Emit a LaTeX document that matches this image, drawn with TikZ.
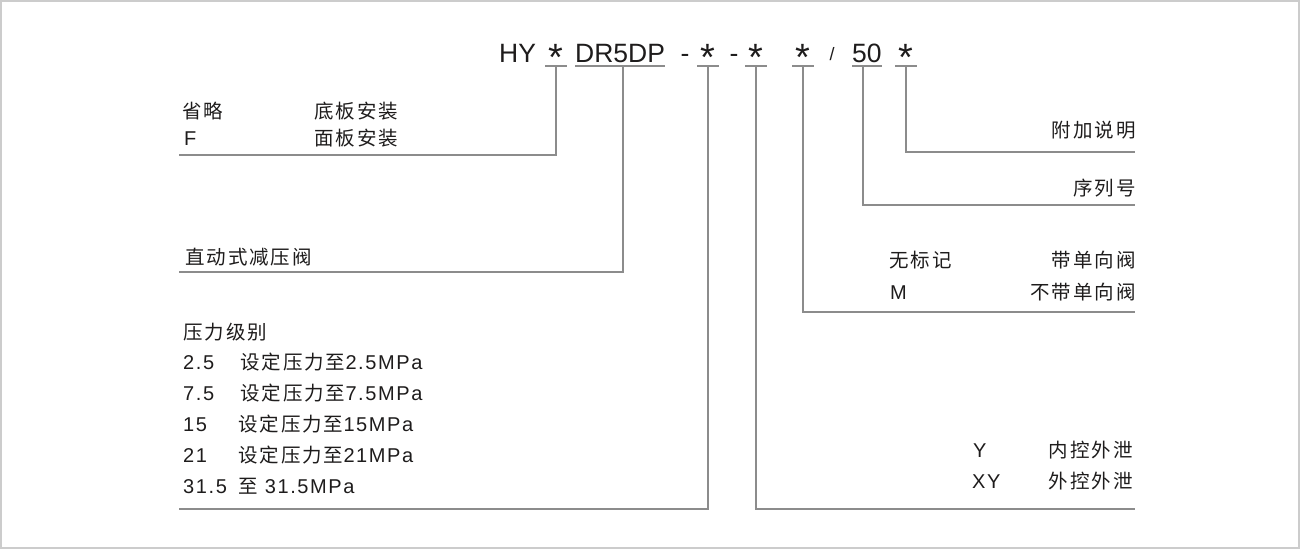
\documentclass[tikz,border=0pt]{standalone}
\usepackage{fontspec}
\setmainfont{Liberation Sans}
\newfontfamily\cjk{Noto Sans CJK SC}[LetterSpace=10]
\newfontfamily\latsp{Liberation Sans}[LetterSpace=8]
\definecolor{linegray}{RGB}{140,140,140}
\definecolor{framegray}{RGB}{204,204,204}
\definecolor{ink}{RGB}{30,28,28}
\newcommand{\codefont}{\fontsize{26.5}{30}\selectfont}
\newcommand{\astfont}{\fontsize{38}{40}\selectfont}
\newcommand{\slashfont}{\fontsize{18}{20}\selectfont}
\newcommand{\lblfont}{\fontsize{20}{22}\selectfont\latsp}
\newcommand{\zh}[1]{{\fontsize{19.5}{22}\selectfont\cjk #1}}
\begin{document}
\begin{tikzpicture}[x=1pt,y=-1pt,
  line/.style={draw=linegray,line width=1.3pt},
  code/.style={inner sep=0pt,anchor=base west,font=\codefont,text=ink},
  ast/.style={inner sep=0pt,anchor=base,font=\astfont,text=ink},
  lbl/.style={inner sep=0pt,anchor=base west,font=\lblfont,text=ink},
  rlbl/.style={lbl,anchor=base east}]
\useasboundingbox (0,0) rectangle (1300,549);
\draw[framegray,line width=2pt] (1,1) rectangle (1299,548);

\node[code] (hy) at (499,62) {HY};
\node[ast] (s1) at (556,70) {*};
\node[code] (dr) at (575,62) {DR5DP};
\node[code,anchor=base] (d1) at (685,62) {-};
\node[ast] (s2) at (708,70) {*};
\node[code,anchor=base] (d2) at (734,62) {-};
\node[ast] (s3) at (756,70) {*};
\node[ast] (s4) at (803,70) {*};
\node[code,anchor=base,font=\slashfont] (sl) at (832,60) {/};
\node[code] (n50) at (852,62) {50};
\node[ast] (s5) at (906,70) {*};

\coordinate (ul) at (0,66);
\foreach \s in {s1,s2,s3,s4,s5}
  \draw[line] (\s |- ul) ++(-11,0) -- ++(22,0);
\draw[line] (dr.base west |- ul) -- (dr.base east |- ul);
\draw[line] (n50.base west |- ul) -- (n50.base east |- ul);

\coordinate (e1) at (179,155);
\coordinate (e2) at (179,272);
\coordinate (e3) at (179,509);
\coordinate (e4) at (1135,509);
\coordinate (e5) at (1135,312);
\coordinate (e6) at (1135,205);
\coordinate (e7) at (1135,152);
\draw[line] (s1 |- ul) |- (e1);
\draw[line] (dr.base |- ul) ++(3,0) |- (e2);
\draw[line] (s2 |- ul) |- (e3);
\draw[line] (s3 |- ul) |- (e4);
\draw[line] (s4 |- ul) |- (e5);
\draw[line] (n50.base |- ul) ++(-4,0) |- (e6);
\draw[line] (s5 |- ul) |- (e7);

\node[lbl] (omit) at (182,118.5) {\zh{省略}};
\node[lbl] (bottom) at (314,118.5) {\zh{底板安装}};
\node[lbl] (F) at (184,145.5) {F};
\node[lbl] (face) at (314,145.5) {\zh{面板安装}};
\node[lbl] (direct) at (185,264) {\zh{直动式减压阀}};
\node[lbl] (plevel) at (183,339) {\zh{压力级别}};
\node[lbl] (p1) at (183,369) {2.5};
\node[lbl] (p1d) at (240,369) {\zh{设定压力至}2.5MPa};
\node[lbl] (p2) at (183,400) {7.5};
\node[lbl] (p2d) at (240,400) {\zh{设定压力至}7.5MPa};
\node[lbl] (p3) at (183,431) {15};
\node[lbl] (p3d) at (238,431) {\zh{设定压力至}15MPa};
\node[lbl] (p4) at (183,462) {21};
\node[lbl] (p4d) at (238,462) {\zh{设定压力至}21MPa};
\node[lbl] (p5) at (183,493) {31.5};
\node[lbl] (p5d) at (238,493) {\zh{至} 31.5MPa};

\node[rlbl] (extra) at (1136,137.5) {\zh{附加说明}};
\node[rlbl] (serial) at (1136,195.5) {\zh{序列号}};
\node[lbl] (nomark) at (889,267.5) {\zh{无标记}};
\node[rlbl] (check) at (1136,267.5) {\zh{带单向阀}};
\node[lbl] (M) at (890,299) {M};
\node[rlbl] (nocheck) at (1136,299) {\zh{不带单向阀}};
\node[lbl] (Y) at (973,457) {Y};
\node[rlbl] (intdrain) at (1133,457) {\zh{内控外泄}};
\node[lbl] (XY) at (972,488.5) {XY};
\node[rlbl] (extdrain) at (1133,488.5) {\zh{外控外泄}};
\end{tikzpicture}
\end{document}
